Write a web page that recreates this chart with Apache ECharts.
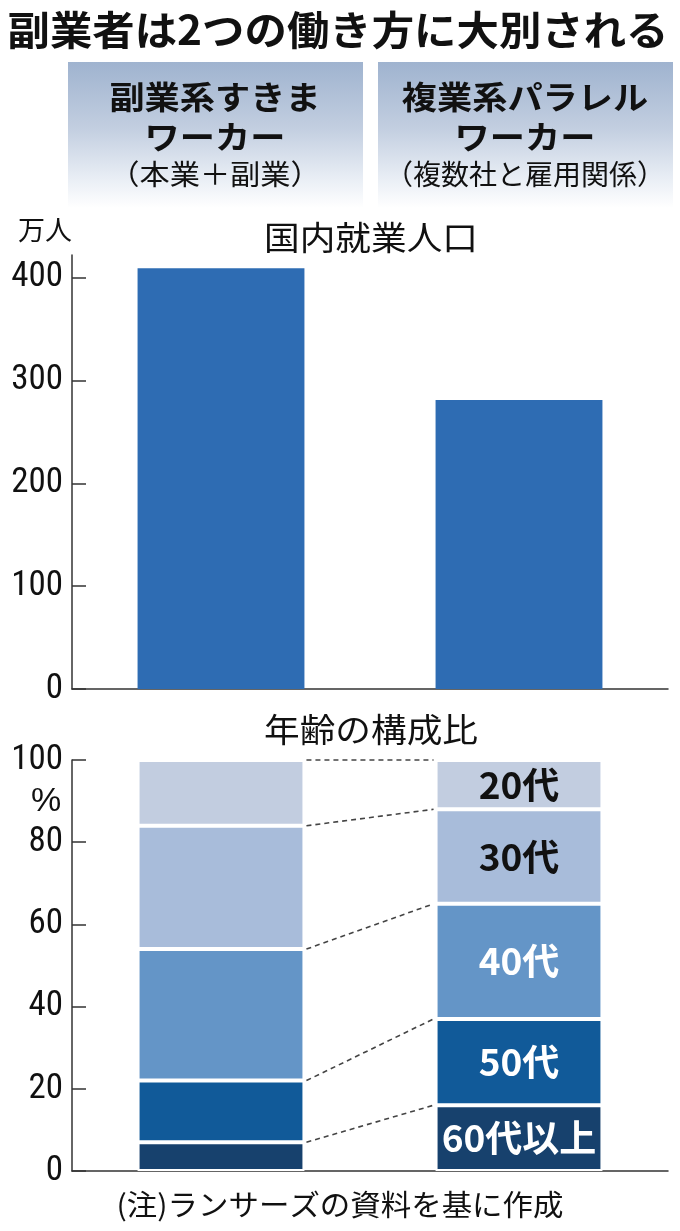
<!DOCTYPE html>
<html>
<head>
<meta charset="utf-8">
<script src="https://cdn.jsdelivr.net/npm/echarts@6/dist/echarts.min.js"></script>
<style>
html,body{margin:0;padding:0;background:#fff;}
#chart{width:680px;height:1231px;}
</style>
</head>
<body>
<div id="chart"></div>
<script>
// ---- data ----
const categories = ['副業系すきまワーカー', '複業系パラレルワーカー'];
const workers = [409, 281];               // 万人
const workerTicks = [0, 100, 200, 300, 400];
const ageNames = ['60代以上', '50代', '40代', '30代', '20代'];
const age60 = [7, 16];
const age50 = [15, 21];
const age40 = [32, 28];
const age30 = [30, 23];
const age20 = [16, 12];
const shareTicks = [0, 20, 40, 60, 80, 100];

// ---- styles ----
const CJK = "'Noto Sans CJK JP', sans-serif";
const NUM = "'Liberation Sans Narrow', 'Roboto Condensed', 'Liberation Sans', sans-serif";
const barColors = ['#17416d', '#115a99', '#6495c7', '#a8bcda', '#c2cde0'];
const labelColors = ['#fff', '#fff', '#fff', '#111', '#111'];
const BAR_RATIO = 0.56;

const ageSeriesData = [age60, age50, age40, age30, age20];

// boundaries for dashed connectors (cumulative tops of each segment)
const boundaries = [];
let cumL = 0, cumR = 0;
ageSeriesData.forEach(arr => {
  cumL += arr[0]; cumR += arr[1];
  boundaries.push([0, cumL, cumR]);
});

const chart = echarts.init(document.getElementById('chart'), null, {renderer: 'canvas'});

const axisLineStyle = {color: '#333', width: 1.5};

const ageSeries = ageSeriesData.map((arr, i) => ({
  type: 'bar',
  name: ageNames[i],
  stack: 'age',
  xAxisIndex: 1,
  yAxisIndex: 1,
  barWidth: (BAR_RATIO * 100) + '%',
  data: arr,
  itemStyle: {color: barColors[i], borderColor: '#fff', borderWidth: 2},
  label: {
    show: true,
    position: 'inside',
    fontFamily: CJK,
    fontWeight: 'bold',
    fontSize: 37,
    color: labelColors[i],
    formatter: p => p.dataIndex === 1 ? p.seriesName : ''
  },
  silent: true
}));

function textEl(text, x, y, size, weight, scaleX, align) {
  return {
    type: 'text', x: x, y: y, scaleX: scaleX || 1,
    style: {
      text: text, fill: '#111',
      font: (weight || 'normal') + ' ' + size + 'px ' + CJK,
      textAlign: align || 'center', textVerticalAlign: 'middle'
    }
  };
}

function boxEl(x, w) {
  return {
    type: 'rect', shape: {x: x, y: 62, width: w, height: 146},
    style: {
      fill: new echarts.graphic.LinearGradient(0, 0, 0, 1, [
        {offset: 0, color: '#9fb3cf'},
        {offset: 0.45, color: '#c2cee0'},
        {offset: 0.8, color: '#e9eef5'},
        {offset: 1, color: '#ffffff'}
      ])
    },
    z: -1
  };
}

const option = {
  animation: false,
  backgroundColor: '#fff',
  grid: [
    {left: 72, right: 12, top: 255, height: 434, outerBoundsMode: 'none'},
    {left: 72, right: 12, top: 760, height: 411, outerBoundsMode: 'none'}
  ],
  xAxis: [
    {type: 'category', gridIndex: 0, data: categories,
     axisLine: {lineStyle: axisLineStyle}, axisTick: {show: false}, axisLabel: {show: false}},
    {type: 'category', gridIndex: 1, data: categories,
     axisLine: {lineStyle: axisLineStyle}, axisTick: {show: false}, axisLabel: {show: false}}
  ],
  yAxis: [
    {type: 'value', gridIndex: 0, min: 0, max: 422,
     axisLine: {show: true, lineStyle: axisLineStyle},
     axisTick: {show: true, inside: true, length: 14, lineStyle: axisLineStyle, customValues: workerTicks},
     axisLabel: {customValues: workerTicks, fontFamily: NUM, fontSize: 35, color: '#111', margin: 9},
     splitLine: {show: false}},
    {type: 'value', gridIndex: 1, min: 0, max: 100,
     axisLine: {show: true, lineStyle: axisLineStyle},
     axisTick: {show: true, inside: true, length: 14, lineStyle: axisLineStyle, customValues: shareTicks},
     axisLabel: {customValues: shareTicks, fontFamily: NUM, fontSize: 35, color: '#111', margin: 9},
     splitLine: {show: false}}
  ],
  series: [
    {type: 'bar', name: '国内就業人口', xAxisIndex: 0, yAxisIndex: 0,
     barWidth: (BAR_RATIO * 100) + '%', data: workers,
     itemStyle: {color: '#2e6cb3'}, silent: true},
    ...ageSeries,
    {type: 'custom', name: 'connectors', xAxisIndex: 1, yAxisIndex: 1,
     data: boundaries, encode: {x: 0, y: 1}, silent: true, z: 1,
     renderItem: function (params, api) {
       const yl = api.value(1), yr = api.value(2);
       const p1 = api.coord([0, yl]);
       const p2 = api.coord([1, yr]);
       const half = api.size([1, 0])[0] * BAR_RATIO / 2;
       return {
         type: 'line',
         shape: {x1: p1[0] + half + 2, y1: p1[1], x2: p2[0] - half - 2, y2: p2[1]},
         style: {stroke: '#444', lineWidth: 1.6, lineDash: [5, 4]}
       };
     }}
  ],
  graphic: [
    textEl('副業者は2つの働き方に大別される', 338, 30, 40, 'bold', 1.06),
    boxEl(68, 295),
    boxEl(378, 295),
    textEl('副業系すきま', 215, 97, 32, 'bold', 1.1),
    textEl('ワーカー', 215, 137, 32, 'bold', 1.1),
    textEl('（本業＋副業）', 215, 174, 28, 'normal', 1.08),
    textEl('複業系パラレル', 525, 97, 32, 'bold', 1.1),
    textEl('ワーカー', 525, 137, 32, 'bold', 1.1),
    textEl('（複数社と雇用関係）', 525, 174, 28, 'normal', 1.0),
    textEl('万人', 45, 230, 27, 'normal', 1.0),
    textEl('国内就業人口', 371, 237, 33, 'normal', 1.08),
    textEl('年齢の構成比', 371, 729, 33, 'normal', 1.08),
    {type: 'text', x: 46, y: 802, style: {text: '%', fill: '#111', fontSize: 34, fontFamily: 'Liberation Sans', textAlign: 'center', textVerticalAlign: 'middle'}},
    textEl('(注)ランサーズの資料を基に作成', 340, 1205, 29, 'normal', 1.05)
  ]
};

chart.setOption(option);
</script>
</body>
</html>
